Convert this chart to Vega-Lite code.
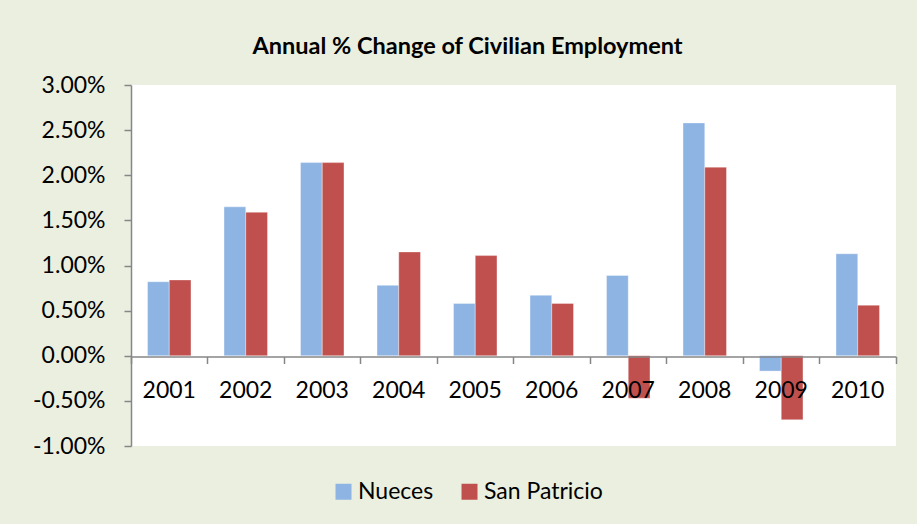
{
  "$schema": "https://vega.github.io/schema/vega-lite/v6.json",
  "width": 765,
  "height": 361,
  "autosize": {"type": "none"},
  "padding": {"left": 131, "top": 85, "right": 21, "bottom": 78},
  "background": "#ebefdf",
  "config": {
    "font": "Lato",
    "view": {"fill": "white", "stroke": null},
    "axis": {"grid": false, "domainColor": "#868686", "tickColor": "#868686", "labelColor": "#000000", "labelFont": "Lato", "labelFontSize": 23, "domainWidth": 1.5, "tickWidth": 1.5}
  },
  "title": {"text": "Annual % Change of Civilian Employment", "fontSize": 23.5, "fontWeight": "bold", "color": "#000000", "font": "Lato", "anchor": "middle", "frame": "group", "orient": "top", "baseline": "top", "dx": -46, "dy": 124, "offset": 0},
  "data": {
    "values": [
      {"year": "2001", "county": "Nueces", "value": 0.0082},
      {"year": "2001", "county": "San Patricio", "value": 0.0084},
      {"year": "2002", "county": "Nueces", "value": 0.0165},
      {"year": "2002", "county": "San Patricio", "value": 0.0159},
      {"year": "2003", "county": "Nueces", "value": 0.0214},
      {"year": "2003", "county": "San Patricio", "value": 0.0214},
      {"year": "2004", "county": "Nueces", "value": 0.0078},
      {"year": "2004", "county": "San Patricio", "value": 0.0115},
      {"year": "2005", "county": "Nueces", "value": 0.0058},
      {"year": "2005", "county": "San Patricio", "value": 0.0111},
      {"year": "2006", "county": "Nueces", "value": 0.0067},
      {"year": "2006", "county": "San Patricio", "value": 0.0058},
      {"year": "2007", "county": "Nueces", "value": 0.0089},
      {"year": "2007", "county": "San Patricio", "value": -0.0047},
      {"year": "2008", "county": "Nueces", "value": 0.0258},
      {"year": "2008", "county": "San Patricio", "value": 0.0209},
      {"year": "2009", "county": "Nueces", "value": -0.0017},
      {"year": "2009", "county": "San Patricio", "value": -0.0071},
      {"year": "2010", "county": "Nueces", "value": 0.0113},
      {"year": "2010", "county": "San Patricio", "value": 0.0056}
    ]
  },
  "layer": [
    {
      "mark": {"type": "bar", "stroke": "#ffffff", "strokeOpacity": 0.5, "strokeWidth": 0.7},
      "encoding": {
        "x": {"field": "year", "type": "nominal", "scale": {"paddingInner": 0, "paddingOuter": 0},
              "axis": {"orient": "bottom", "offset": -89.5, "bandPosition": 0, "labels": false, "tickSize": 7, "title": null, "zindex": 1}},
        "xOffset": {"field": "county", "sort": ["Nueces", "San Patricio"], "scale": {"paddingOuter": 0.76, "paddingInner": 0}},
        "y": {"field": "value", "type": "quantitative", "scale": {"domain": [-0.01, 0.03], "nice": false},
              "axis": {"values": [-0.01, -0.005, 0, 0.005, 0.01, 0.015, 0.02, 0.025, 0.03], "labelExpr": "replace(format(datum.value, '.2%'), '−', '-')", "title": null, "tickSize": 7, "labelPadding": 19}},
        "color": {"field": "county", "type": "nominal",
                  "scale": {"domain": ["Nueces", "San Patricio"], "range": ["#8EB4E3", "#C0504D"]},
                  "legend": {"orient": "none", "legendX": 201, "legendY": 395, "direction": "horizontal", "title": null, "symbolType": "square", "symbolSize": 256, "symbolStrokeWidth": 0, "labelFontSize": 23, "labelFont": "Lato", "labelColor": "#000000", "columnPadding": 24, "labelOffset": 3, "padding": 0}}
      }
    },
    {
      "mark": {"type": "bar", "opacity": 0},
      "encoding": {
        "x": {"field": "year", "type": "nominal", "axis": {"orient": "bottom", "offset": -89.5, "ticks": false, "domain": false, "labelPadding": 23, "labelAngle": 0, "title": null, "zindex": 2}},
        "y": {"field": "value", "type": "quantitative"}
      }
    },
    {
      "mark": {"type": "bar", "opacity": 0},
      "encoding": {
        "x": {"field": "year", "type": "nominal", "axis": {"orient": "bottom", "offset": -89.5, "values": ["2010"], "bandPosition": 1, "labels": false, "domain": false, "tickSize": 7, "title": null, "zindex": 1}},
        "y": {"field": "value", "type": "quantitative"}
      }
    }
  ],
  "resolve": {"axis": {"x": "independent"}}
}
